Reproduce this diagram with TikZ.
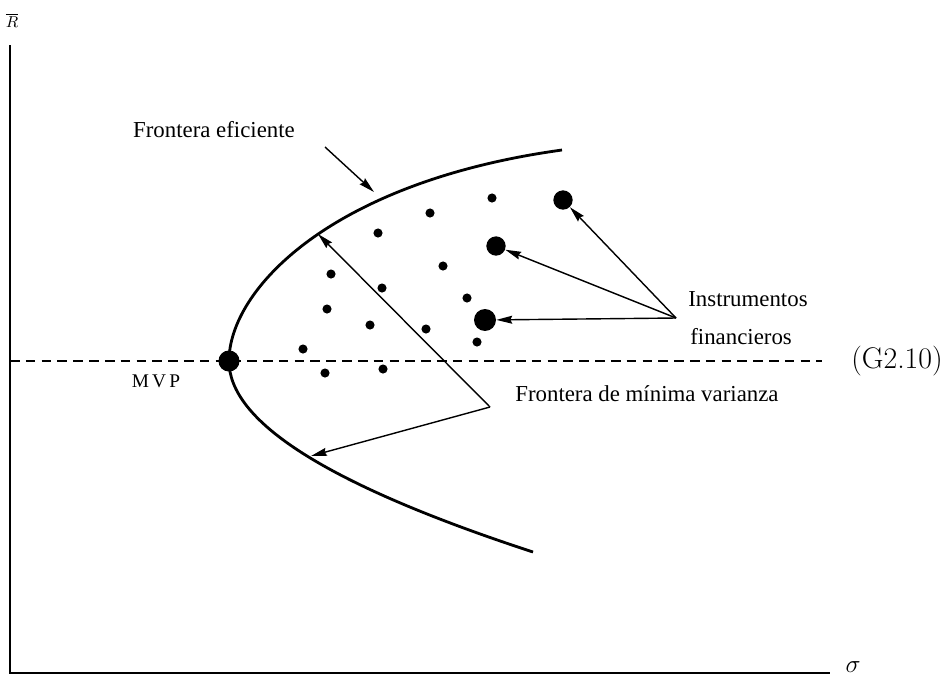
\documentclass[tikz,border=0pt]{standalone}
\usepackage{fontspec}
\newfontfamily\tnr{Liberation Serif}
\usetikzlibrary{arrows.meta}
\begin{document}
\begin{tikzpicture}[x=0.02cm,y=-0.02cm,
  axis/.style={line width=1pt},
  curve/.style={line width=1.6pt},
  ptr/.style={line width=0.8pt,-{Stealth[length=9pt,width=4.5pt,inset=1pt]}},
  dot/.style={circle,fill=black,inner sep=0pt,minimum size=5.2pt},
  bigdot/.style={circle,fill=black,inner sep=0pt,minimum size=11pt},
  mvpdot/.style={circle,fill=black,inner sep=0pt,minimum size=12pt},
  lbl/.style={font=\tnr\fontsize{13}{15}\selectfont,inner sep=0pt}]
\useasboundingbox (0,0) rectangle (952,684);
% axes
\coordinate (o) at (10,673);
\coordinate (ytop) at (10,45);
\coordinate (xend) at (830,673);
\draw[axis] (ytop) -- (o) -- (xend);
\node[inner sep=0pt] (ylab) at (12,20) {\small$\overline{R}$};
\node[inner sep=0pt] (xlab) at (853,667) {\Large$\sigma$};
% dashed line
\coordinate (dl) at (10,361);
\coordinate (dr) at (822,361);
\draw[line width=1pt,dash pattern=on 5.5pt off 3.5pt] (dl) -- (dr);
% frontier
\coordinate (vtx) at (229,361);
\coordinate (utop) at (562,150);
\coordinate (lbot) at (533,552);
\draw[curve] (utop) .. controls (330,182) and (229,290) .. (vtx)
             .. controls (229,420) and (322,483) .. (lbot);
\node[mvpdot] (mvp) at (vtx) {};
% dots
\foreach \n/\x/\y in {a/492/198,b/430/213,c/378/233,d/443/266,e/331/274,f/382/288,g/467/298,h/327/309,i/370/325,j/426/329,k/477/342,l/303/349,m/325/373,n/383/369}
  \node[dot] (\n) at (\x,\y) {};
\node[bigdot] (big1) at (563,200) {};
\node[bigdot] (big2) at (496,246) {};
\node[bigdot,minimum size=12.5pt] (big3) at (485,320) {};
% labels
\node[lbl] (fe) at (214,130) {Frontera eficiente};
\node[lbl,anchor=west] (ins) at (688,299) {Instrumentos};
\node[lbl,anchor=west] (fin) at (690,337) {financieros};
\node[lbl,anchor=west] (fmv) at (515,394) {Frontera de mínima varianza};
\node[font=\tnr\fontsize{11}{13}\selectfont,inner sep=0pt] (mvplab) at (156,381) {M\,V\,P};
\node[font=\fontsize{17}{20}\selectfont,inner sep=0pt] (g) at (897,361) {(G2.10)};
% arrows
\coordinate (fes) at (325,147);
\coordinate (fet) at (374,192);
\draw[ptr] (fes) -- (fet);
\coordinate (src) at (676,318);
\draw[ptr] (src) -- (big1);
\draw[ptr] (src) -- (big2);
\draw[ptr] (src) -- (big3);
\coordinate (mv) at (490,407);
\coordinate (mvu) at (318,234);
\coordinate (mvl) at (311,456);
\draw[ptr] (mv) -- (mvu);
\draw[ptr] (mv) -- (mvl);
\end{tikzpicture}
\end{document}
